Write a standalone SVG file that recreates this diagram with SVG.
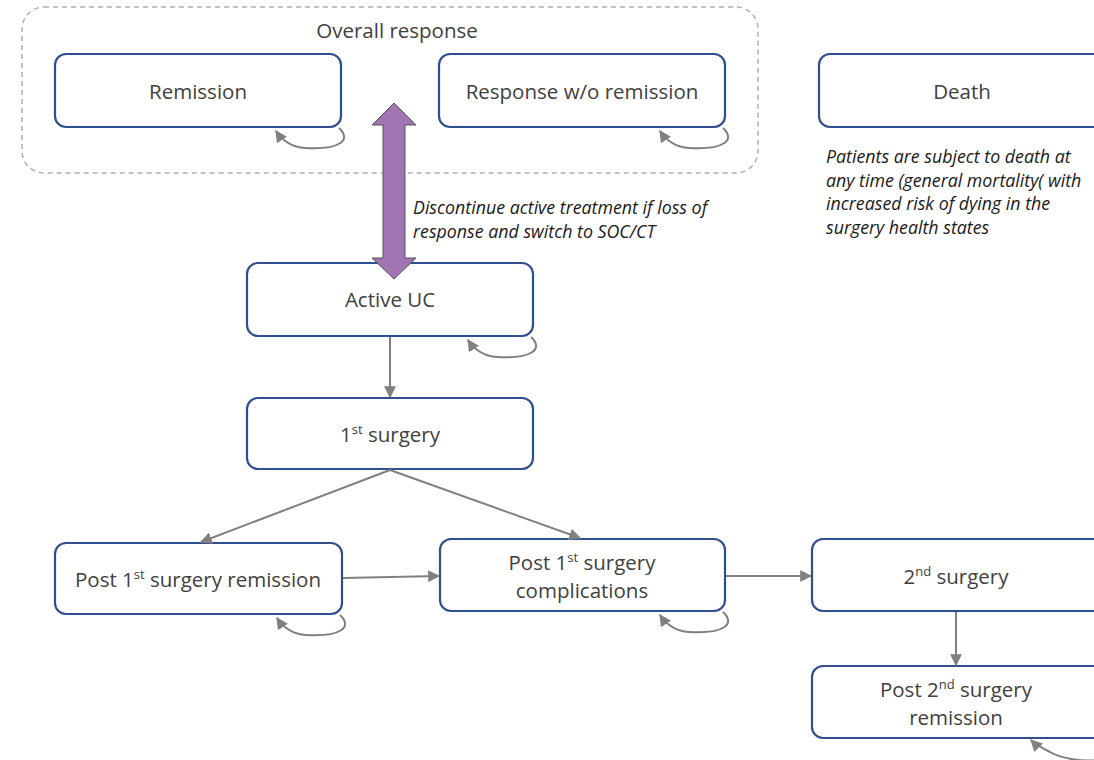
<svg xmlns="http://www.w3.org/2000/svg" width="1094" height="760" viewBox="0 0 1094 760">
<defs>
<style>
.node{fill:#fff;stroke:#2f4f8f;stroke-width:2.2}
.lbl{font-family:"Open Sans","Liberation Sans",sans-serif;font-size:20.5px;fill:#404040;text-anchor:middle}
.sup{font-size:13px}
.note{font-family:"Open Sans","Liberation Sans",sans-serif;font-size:17.8px;font-style:italic;fill:#1a1a1a}
.con{fill:none;stroke:#808080;stroke-width:2}
.loop{fill:none;stroke:#808080;stroke-width:2}
</style>
<marker id="ahl" viewBox="0 0 10 10" refX="9" refY="5" markerWidth="12" markerHeight="12" orient="auto" markerUnits="userSpaceOnUse">
<path d="M0,0 L10,5 L0,10 z" fill="#808080"/>
</marker>
</defs>
<rect width="1094" height="760" fill="#fff"/>

<g id="overall-response">
<rect x="22" y="7" width="736" height="166" rx="22" fill="none" stroke="#b0b0b0" stroke-width="1.5" stroke-dasharray="5,4"/>
<text class="lbl" x="397" y="38">Overall response</text>
</g>

<g id="remission">
<rect class="node" x="55" y="54" width="286" height="73" rx="11"/>
<text class="lbl" x="198" y="99">Remission</text>
</g>

<g id="response-wo-remission">
<rect class="node" x="439" y="54" width="286" height="73" rx="11"/>
<text class="lbl" x="582" y="99">Response w/o remission</text>
</g>

<g id="death">
<rect class="node" x="819" y="54" width="290" height="73" rx="11"/>
<text class="lbl" x="962" y="99">Death</text>
</g>

<g id="death-note">
<text class="note" x="826" y="163">Patients are subject to death at</text>
<text class="note" x="826" y="187">any time (general mortality( with</text>
<text class="note" x="826" y="210">increased risk of dying in the</text>
<text class="note" x="826" y="234">surgery health states</text>
</g>

<g id="active-uc">
<rect class="node" x="247" y="263" width="286" height="73" rx="11"/>
<text class="lbl" x="390" y="307">Active UC</text>
</g>

<g id="first-surgery">
<rect class="node" x="247" y="398" width="286" height="71" rx="11"/>
<text class="lbl" x="390" y="442">1<tspan class="sup" dy="-8">st</tspan><tspan dy="8"> surgery</tspan></text>
</g>

<g id="post-1st-remission">
<rect class="node" x="55" y="543" width="287" height="71" rx="11"/>
<text class="lbl" x="198" y="587">Post 1<tspan class="sup" dy="-8">st</tspan><tspan dy="8"> surgery remission</tspan></text>
</g>

<g id="post-1st-complications">
<rect class="node" x="440" y="539" width="285" height="72" rx="11"/>
<text class="lbl" x="582" y="570">Post 1<tspan class="sup" dy="-8">st</tspan><tspan dy="8"> surgery</tspan></text>
<text class="lbl" x="582" y="598">complications</text>
</g>

<g id="second-surgery">
<rect class="node" x="812" y="539" width="297" height="72" rx="11"/>
<text class="lbl" x="956" y="584">2<tspan class="sup" dy="-8">nd</tspan><tspan dy="8"> surgery</tspan></text>
</g>

<g id="post-2nd-remission">
<rect class="node" x="812" y="666" width="297" height="72" rx="11"/>
<text class="lbl" x="956" y="697">Post 2<tspan class="sup" dy="-8">nd</tspan><tspan dy="8"> surgery</tspan></text>
<text class="lbl" x="956" y="725">remission</text>
</g>

<g id="connectors">
<path d="M383,125 L372,125 L394,103 L416,125 L405,125 L405,258 L416,258 L394,279 L372,258 L383,258 Z" fill="#a175b3" stroke="#555" stroke-width="1"/>
<text class="note" x="413" y="214">Discontinue active treatment if loss of</text>
<text class="note" x="413" y="238">response and switch to SOC/CT</text>

<line class="con" x1="390" y1="337" x2="390" y2="397" marker-end="url(#ahl)"/>
<line class="con" x1="390" y1="470" x2="201" y2="542" marker-end="url(#ahl)"/>
<line class="con" x1="390" y1="470" x2="580" y2="538" marker-end="url(#ahl)"/>
<line class="con" x1="343" y1="578" x2="439" y2="576" marker-end="url(#ahl)"/>
<line class="con" x1="726" y1="576" x2="811" y2="576" marker-end="url(#ahl)"/>
<line class="con" x1="956" y1="612" x2="956" y2="665" marker-end="url(#ahl)"/>

<path class="loop" d="M339,128 C352,140 340,150 305,148 C290,147 282,140 276,131" marker-end="url(#ahl)"/>
<path class="loop" d="M723,128 C736,140 724,150 689,148 C674,147 666,140 660,131" marker-end="url(#ahl)"/>
<path class="loop" d="M531,337 C544,349 532,359 497,357 C482,356 474,349 468,340" marker-end="url(#ahl)"/>
<path class="loop" d="M340,615 C353,627 341,637 306,635 C291,634 283,627 277,618" marker-end="url(#ahl)"/>
<path class="loop" d="M723,612 C736,624 724,634 689,632 C674,631 666,624 660,615" marker-end="url(#ahl)"/>
<path class="loop" d="M1100,760 C1080,762 1060,758 1050,752 C1042,748 1036,745 1031,740" marker-end="url(#ahl)"/>
</g>
</svg>
